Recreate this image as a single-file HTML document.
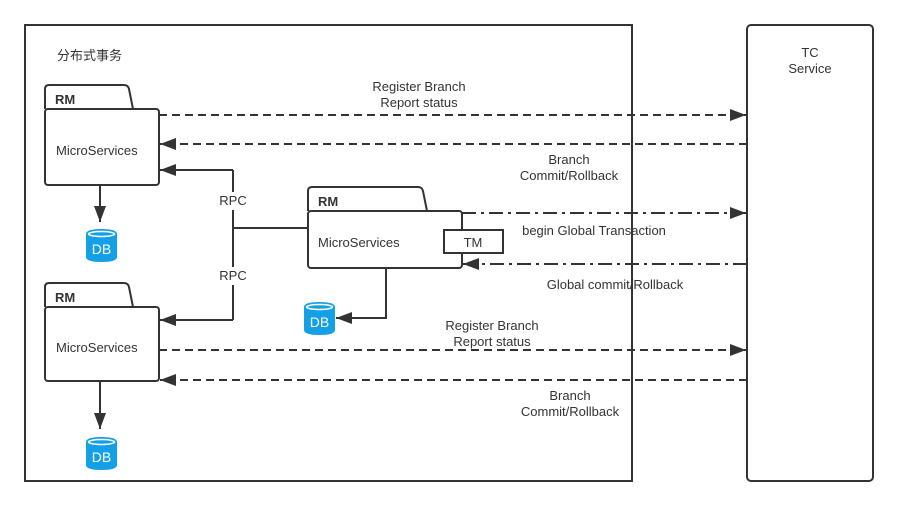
<!DOCTYPE html>
<html><head><meta charset="utf-8"><style>body{margin:0;background:#fff}svg{display:block}text{font-family:"Liberation Sans","Noto Sans CJK SC",sans-serif;font-size:13px;fill:#333}</style></head><body>
<svg width="897" height="507" viewBox="0 0 897 507">
<defs>
<marker id="b" viewBox="0 0 16 12" markerWidth="16" markerHeight="12" refX="16" refY="6" orient="auto" markerUnits="userSpaceOnUse"><path d="M0,0 L16,6 L0,12 z" fill="#333"/></marker>
<g id="db"><path d="M0,5 Q0,0 15.5,0 Q31,0 31,5 L31,28 Q31,33 15.5,33 Q0,33 0,28 z" fill="#14a0e6"/><ellipse cx="15.5" cy="5" rx="13" ry="2.5" fill="none" stroke="#fff" stroke-width="1.5"/><text x="15.5" y="25" text-anchor="middle" style="fill:#fff;font-size:14px">DB</text></g>
</defs>
<g fill="none" stroke="#333" stroke-width="2">
<rect x="25" y="25" width="607" height="456"/>
<rect x="747" y="25" width="126" height="456" rx="4"/>
<path d="M45,109 V89 Q45,85 49,85 H124 Q128,85 129,89 L133,109"/>
<rect x="45" y="109" width="114" height="76" rx="3" fill="#fff"/>
<path d="M45,307 V287 Q45,283 49,283 H124 Q128,283 129,287 L133,307"/>
<rect x="45" y="307" width="114" height="74" rx="3" fill="#fff"/>
<path d="M308,211 V191 Q308,187 312,187 H418 Q422,187 423,191 L427,211"/>
<rect x="308" y="211" width="154" height="57" rx="3" fill="#fff"/>
<rect x="444" y="230" width="59" height="23" fill="#fff"/>
</g>
<g stroke="#333" stroke-width="2" fill="none">
<line x1="100" y1="185" x2="100" y2="222" marker-end="url(#b)"/>
<line x1="100" y1="381" x2="100" y2="429" marker-end="url(#b)"/>
<path d="M386,268 V318 H336" marker-end="url(#b)"/>
<line x1="233" y1="170" x2="160" y2="170" marker-end="url(#b)"/>
<line x1="233" y1="320" x2="160" y2="320" marker-end="url(#b)"/>
<line x1="233" y1="170" x2="233" y2="320"/>
<line x1="233" y1="228" x2="308" y2="228"/>
<g stroke-dasharray="8,5">
<line x1="159" y1="115" x2="746" y2="115" marker-end="url(#b)"/>
<line x1="747" y1="144" x2="160" y2="144" marker-end="url(#b)"/>
<line x1="159" y1="350" x2="746" y2="350" marker-end="url(#b)"/>
<line x1="747" y1="380" x2="160" y2="380" marker-end="url(#b)"/>
</g>
<g stroke-dasharray="14,5,3,5">
<line x1="462" y1="213" x2="746" y2="213" marker-end="url(#b)"/>
<line x1="747" y1="264" x2="463" y2="264" marker-end="url(#b)"/>
</g>
</g>
<rect x="216" y="192" width="34" height="18" fill="#fff"/>
<rect x="216" y="267" width="34" height="18" fill="#fff"/>
<use href="#db" x="86" y="229"/>
<use href="#db" x="304" y="302"/>
<use href="#db" x="86" y="437"/>
<text x="57" y="60">分布式事务</text>
<text x="55" y="104" style="font-weight:bold">RM</text>
<text x="55" y="302" style="font-weight:bold">RM</text>
<text x="318" y="206" style="font-weight:bold">RM</text>
<text x="56" y="155">MicroServices</text>
<text x="56" y="352">MicroServices</text>
<text x="318" y="247">MicroServices</text>
<text x="473" y="247" text-anchor="middle">TM</text>
<text x="233" y="205" text-anchor="middle">RPC</text>
<text x="233" y="280" text-anchor="middle">RPC</text>
<g text-anchor="middle">
<text x="419" y="91">Register Branch</text><text x="419" y="107">Report status</text>
<text x="569" y="164">Branch</text><text x="569" y="180">Commit/Rollback</text>
<text x="594" y="235">begin Global Transaction</text>
<text x="615" y="289">Global commit/Rollback</text>
<text x="492" y="330">Register Branch</text><text x="492" y="346">Report status</text>
<text x="570" y="400">Branch</text><text x="570" y="416">Commit/Rollback</text>
<text x="810" y="57">TC</text><text x="810" y="73">Service</text>
</g>
</svg>
</body></html>
